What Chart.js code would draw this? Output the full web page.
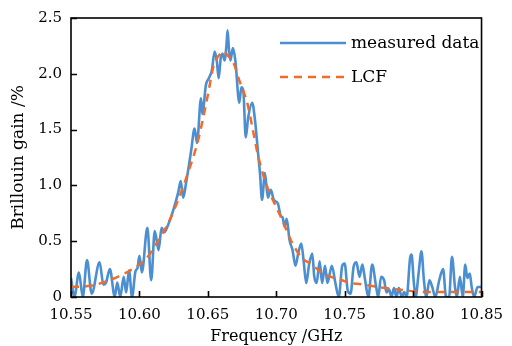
<!DOCTYPE html>
<html>
<head>
<meta charset="utf-8">
<script src="https://cdn.jsdelivr.net/npm/chart.js@4.4.1/dist/chart.umd.min.js"></script>
<style>
  html, body { margin: 0; padding: 0; background: #fff; }
  #wrap { width: 512px; height: 346px; }
</style>
</head>
<body>
<div id="wrap"><canvas id="Cnvs" width="512" height="346"></canvas></div>
<script>
// measured Brillouin gain spectrum
var freq = [
  10.5500, 10.5525, 10.5558, 10.5586, 10.5617, 10.5651, 10.5709, 10.5737, 10.5755, 10.5784,
  10.5820, 10.5838, 10.5860, 10.5885, 10.5903, 10.5924, 10.5946, 10.5971, 10.5986, 10.6000,
  10.6018, 10.6058, 10.6086, 10.6112, 10.6140, 10.6162, 10.6183, 10.6201, 10.6248, 10.6284,
  10.6302, 10.6320, 10.6342, 10.6378, 10.6403, 10.6421, 10.6450, 10.6460, 10.6486, 10.6507,
  10.6529, 10.6550, 10.6565, 10.6579, 10.6594, 10.6608, 10.6622, 10.6637, 10.6644, 10.6655,
  10.6665, 10.6683, 10.6701, 10.6730, 10.6745, 10.6759, 10.6777, 10.6795, 10.6824, 10.6845,
  10.6867, 10.6881, 10.6896, 10.6917, 10.6939, 10.6960, 10.6982, 10.7011, 10.7032, 10.7047,
  10.7061, 10.7076, 10.7097, 10.7119, 10.7140, 10.7162, 10.7183, 10.7201, 10.7219, 10.7241,
  10.7263, 10.7277, 10.7295, 10.7317, 10.7335, 10.7356, 10.7374, 10.7406, 10.7432, 10.7457,
  10.7482, 10.7500, 10.7522, 10.7543, 10.7565, 10.7586, 10.7608, 10.7629, 10.7647, 10.7673,
  10.7701, 10.7730, 10.7745, 10.7766, 10.7788, 10.7806, 10.7824, 10.7842, 10.7860, 10.7878,
  10.7896, 10.7917, 10.7935, 10.7953, 10.7978, 10.7989, 10.8004, 10.8018, 10.8040, 10.8061,
  10.8079, 10.8097, 10.8119, 10.8140, 10.8162, 10.8191, 10.8219, 10.8241, 10.8263, 10.8284,
  10.8306, 10.8320, 10.8342, 10.8363, 10.8381, 10.8396, 10.8414, 10.8428, 10.8446, 10.8471, 10.8500
];
var gain = [
  0.17, 0.00, 0.22, 0.00, 0.33, 0.03, 0.31, 0.11, 0.125, 0.25,
  0.00, 0.13, 0.00, 0.18, 0.04, 0.24, 0.00, 0.23, 0.26, 0.37,
  0.22, 0.62, 0.15, 0.59, 0.42, 0.62, 0.58, 0.62, 0.78, 0.94,
  1.04, 0.89, 1.03, 1.31, 1.51, 1.38, 1.78, 1.64, 1.90, 1.96,
  2.03, 2.20, 2.12, 1.96, 2.14, 2.18, 2.12, 2.27, 2.39, 2.21,
  2.12, 2.23, 2.12, 1.74, 1.88, 1.85, 1.43, 1.61, 1.74, 1.58,
  1.29, 1.11, 0.87, 1.11, 0.89, 0.96, 0.87, 0.84, 0.73, 0.71,
  0.63, 0.70, 0.51, 0.42, 0.28, 0.40, 0.48, 0.31, 0.125, 0.30,
  0.39, 0.19, 0.125, 0.32, 0.125, 0.28, 0.125, 0.28, 0.125, 0.00,
  0.28, 0.30, 0.06, 0.03, 0.27, 0.31, 0.18, 0.29, 0.17, 0.00,
  0.29, 0.09, 0.00, 0.18, 0.15, 0.04, 0.07, 0.00, 0.08, 0.00,
  0.08, 0.00, 0.045, 0.00, 0.35, 0.38, 0.15, 0.00, 0.21, 0.41,
  0.15, 0.00, 0.15, 0.09, 0.00, 0.15, 0.25, 0.00, 0.00, 0.36,
  0.09, 0.00, 0.18, 0.00, 0.29, 0.17, 0.21, 0.09, 0.00, 0.09, 0.09
];

// Lorentzian fit curve, also
var lcfFreq = [
  10.550, 10.564, 10.578, 10.589, 10.600, 10.607, 10.614, 10.621, 10.628, 10.636,
  10.643, 10.650, 10.654, 10.659, 10.662, 10.664, 10.669, 10.673, 10.679, 10.683,
  10.687, 10.693, 10.699, 10.704, 10.711, 10.718, 10.726, 10.733, 10.740, 10.747,
  10.754, 10.762, 10.769, 10.780, 10.794, 10.808, 10.823, 10.837, 10.850
];
var lcfGain = [
  0.09, 0.10, 0.15, 0.21, 0.29, 0.375, 0.51, 0.66, 0.86, 1.13,
  1.41, 1.81, 2.06, 2.18, 2.20, 2.17, 2.09, 1.94, 1.73, 1.49,
  1.25, 1.00, 0.83, 0.70, 0.50, 0.36, 0.29, 0.22, 0.18, 0.155,
  0.125, 0.115, 0.10, 0.08, 0.06, 0.045, 0.045, 0.045, 0.045
];

var xTicks = [10.55, 10.60, 10.65, 10.70, 10.75, 10.80, 10.85];
var yTicks = [0, 0.5, 1.0, 1.5, 2.0, 2.5];
var seriesNames = ['measured data', 'LCF'];

var FONT = '"DejaVu Serif", "Liberation Serif", serif';
var BLUE = '#4b8fd1';
var ORANGE = '#ef6c2c';

function toPoints(xs, ys) {
  var out = [];
  for (var i = 0; i < xs.length; i++) out.push({x: xs[i], y: ys[i]});
  return out;
}

// box round the plot, inward ticks, legend in the upper right
var framePlugin = {
  id: 'frame',
  afterDraw: function(chart) {
    var ctx = chart.ctx;
    var a = chart.chartArea;
    var sx = chart.scales.x, sy = chart.scales.y;
    ctx.save();
    ctx.strokeStyle = '#000';
    ctx.lineWidth = 1.6;
    ctx.strokeRect(a.left, a.top, a.right - a.left, a.bottom - a.top);
    ctx.beginPath();
    xTicks.forEach(function(v) {
      var px = Math.round(sx.getPixelForValue(v)) + 0.5;
      ctx.moveTo(px, a.bottom);
      ctx.lineTo(px, a.bottom - 6);
    });
    yTicks.forEach(function(v) {
      var py = Math.round(sy.getPixelForValue(v)) + 0.5;
      ctx.moveTo(a.left, py);
      ctx.lineTo(a.left + 6, py);
    });
    ctx.stroke();

    // legend
    var ds = chart.data.datasets;
    var rows = [43, 77];
    ctx.font = '17px ' + FONT;
    ctx.textBaseline = 'middle';
    ctx.fillStyle = '#000';
    for (var i = 0; i < ds.length; i++) {
      ctx.beginPath();
      ctx.strokeStyle = ds[i].borderColor;
      ctx.lineWidth = ds[i].borderWidth;
      ctx.setLineDash(ds[i].borderDash || []);
      ctx.moveTo(280, rows[i]);
      ctx.lineTo(346, rows[i]);
      ctx.stroke();
      ctx.setLineDash([]);
      ctx.fillText(ds[i].label, 351, rows[i] + 1);
    }
    ctx.restore();
  }
};

var chart = new Chart(document.getElementById('Cnvs'), {
  type: 'line',
  data: {
    datasets: [
      {
        label: seriesNames[0],
        data: toPoints(freq, gain),
        borderColor: BLUE,
        borderWidth: 2.6,
        pointRadius: 0,
        cubicInterpolationMode: 'monotone',
        fill: false,
        order: 2
      },
      {
        label: seriesNames[1],
        data: toPoints(lcfFreq, lcfGain),
        borderColor: ORANGE,
        borderWidth: 2.5,
        borderDash: [8, 6],
        pointRadius: 0,
        cubicInterpolationMode: 'monotone',
        fill: false,
        order: 1
      }
    ]
  },
  options: {
    responsive: false,
    animation: false,
    events: [],
    layout: { padding: { left: 8, right: 24, top: 17, bottom: 0 } },
    plugins: {
      legend: { display: false },
      tooltip: { enabled: false }
    },
    scales: {
      x: {
        type: 'linear',
        min: 10.55,
        max: 10.85,
        afterBuildTicks: function(s) { s.ticks = xTicks.map(function(v) { return {value: v}; }); },
        afterFit: function(s) { s.height = 49; },
        grid: { display: false, drawTicks: false },
        border: { display: false },
        ticks: {
          color: '#000',
          padding: 9,
          maxRotation: 0,
          font: { family: FONT, size: 15 },
          callback: function(v) { return Number(v).toFixed(2); }
        },
        title: {
          display: true,
          text: 'Frequency /GHz',
          color: '#000',
          padding: { top: 0, bottom: 0 },
          font: { family: FONT, size: 16 }
        }
      },
      y: {
        min: 0,
        max: 2.5,
        afterBuildTicks: function(s) { s.ticks = yTicks.map(function(v) { return {value: v}; }); },
        afterFit: function(s) { s.width = 63; },
        grid: { display: false, drawTicks: false },
        border: { display: false },
        ticks: {
          color: '#000',
          padding: 9,
          font: { family: FONT, size: 15 },
          callback: function(v) { return v === 0 ? '0' : Number(v).toFixed(1); }
        },
        title: {
          display: true,
          text: 'Brillouin gain /%',
          color: '#000',
          padding: { top: 0, bottom: 4 },
          font: { family: FONT, size: 17 }
        }
      }
    }
  },
  plugins: [framePlugin]
});
</script>
</body>
</html>
